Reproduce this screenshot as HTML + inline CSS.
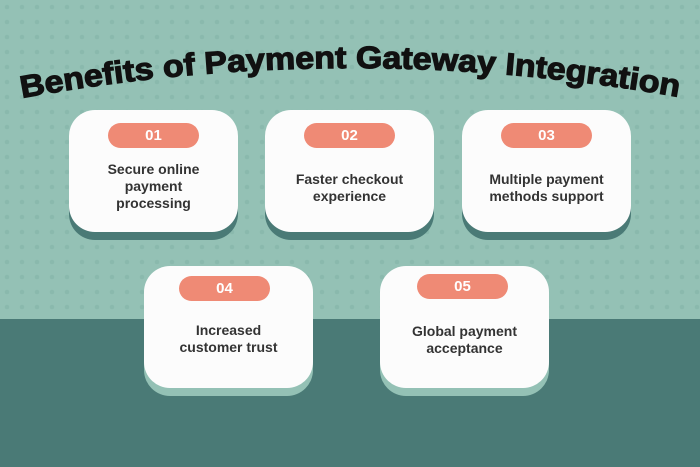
<!DOCTYPE html>
<html><head><style>
body{margin:0;width:700px;height:467px;overflow:hidden;background:#94c1b5;font-family:"Liberation Sans",sans-serif;position:relative}
.dark{position:absolute;left:0;top:319px;width:700px;height:148px;background:#4a7a76}
.card{position:absolute;width:169px;height:122px;background:#fcfcfc;border-radius:26px;text-align:center}
.sh{position:absolute;width:169px;height:122px;border-radius:26px}
.pill{position:absolute;width:91px;height:25px;border-radius:13px;background:#ef8a75;color:#fff;font-weight:bold;font-size:15px;line-height:25px;text-align:center}
.t{position:absolute;left:0;width:169px;color:#333;font-weight:bold;font-size:14px;line-height:17px;text-align:center}
</style></head><body>
<svg width="700" height="467" style="position:absolute;left:0;top:0">
<defs><pattern id="d" width="15" height="15" patternUnits="userSpaceOnUse"><circle cx="7" cy="7" r="2.3" fill="#86b5a9"/></pattern></defs>
<rect x="0" y="0" width="700" height="319" fill="url(#d)" opacity="0.7"/>
<path id="arc" d="M 22,98 Q 350,38 685,98" fill="none"/>
<text font-family="Liberation Sans" font-weight="bold" font-size="31" fill="#111" stroke="#111" stroke-width="1.2"><textPath href="#arc" textLength="660" lengthAdjust="spacingAndGlyphs">Benefits of Payment Gateway Integration</textPath></text>
</svg>
<div class="dark"></div>

<div class="sh" style="left:69px;top:118px;background:#4a7a76"></div>
<div class="card" style="left:69px;top:110px"><div class="pill" style="left:39px;top:13px">01</div><div class="t" style="top:51px">Secure online<br>payment<br>processing</div></div>

<div class="sh" style="left:265px;top:118px;background:#4a7a76"></div>
<div class="card" style="left:265px;top:110px"><div class="pill" style="left:39px;top:13px">02</div><div class="t" style="top:61px">Faster checkout<br>experience</div></div>

<div class="sh" style="left:462px;top:118px;background:#4a7a76"></div>
<div class="card" style="left:462px;top:110px"><div class="pill" style="left:39px;top:13px">03</div><div class="t" style="top:61px">Multiple payment<br>methods support</div></div>

<div class="sh" style="left:144px;top:274px;background:#94c1b5"></div>
<div class="card" style="left:144px;top:266px"><div class="pill" style="left:35px;top:10px">04</div><div class="t" style="top:56px">Increased<br>customer trust</div></div>

<div class="sh" style="left:380px;top:274px;background:#94c1b5"></div>
<div class="card" style="left:380px;top:266px"><div class="pill" style="left:37px;top:8px">05</div><div class="t" style="top:57px">Global payment<br>acceptance</div></div>
</body></html>
